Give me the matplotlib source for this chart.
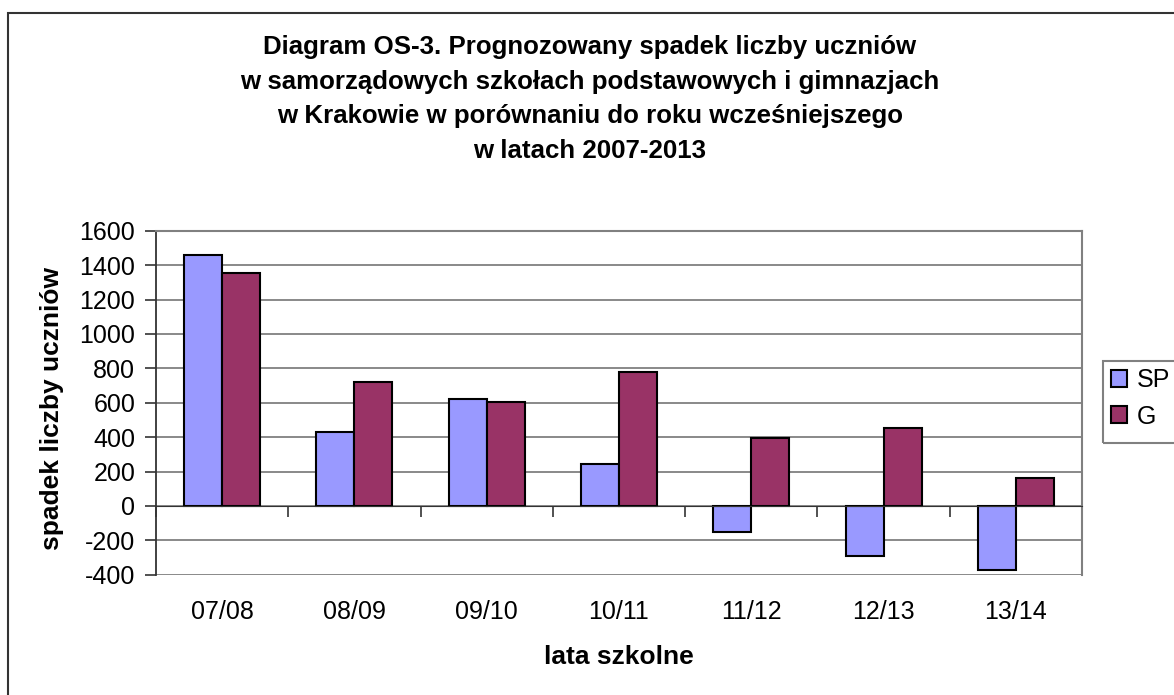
import numpy as np
import matplotlib
matplotlib.use('Agg')
import matplotlib.pyplot as plt
from matplotlib.patches import Rectangle

years = ['07/08', '08/09', '09/10', '10/11', '11/12', '12/13', '13/14']
sp = [1460, 429, 624, 241, -151, -290, -371]
g = [1356, 719, 603, 777, 394, 452, 164]
title = ('Diagram OS-3. Prognozowany spadek liczby uczniów\n'
         'w samorządowych szkołach podstawowych i gimnazjach\n'
         'w Krakowie w porównaniu do roku wcześniejszego\n'
         'w latach 2007-2013')

plt.rcParams['font.family'] = ['Liberation Sans', 'DejaVu Sans']
plt.rcParams['axes.unicode_minus'] = False

W, H = 1174, 695
fig = plt.figure(figsize=(W / 100, H / 100), dpi=100)
ax = fig.add_axes([156 / W, 1 - 574.7 / H, 926 / W, 344 / H])

x = np.arange(len(years))
w = 0.2875
ax.bar(x - w / 2, sp, w, color='#9999FF', edgecolor='black', linewidth=1.5, label='SP', zorder=3)
ax.bar(x + w / 2, g, w, color='#993366', edgecolor='black', linewidth=1.5, label='G', zorder=3)

ax.set_xlim(-0.5, len(years) - 0.5)
ax.set_ylim(-400, 1600)
ax.set_yticks(range(-400, 1601, 200))
ax.yaxis.grid(True, color='#808080', linewidth=1.3)
ax.set_axisbelow(True)

dark = '#333333'
ax.spines['bottom'].set_position(('data', 0))
ax.spines['bottom'].set_color(dark)
ax.spines['bottom'].set_zorder(4)
ax.spines['left'].set_color(dark)
ax.spines['left'].set_linewidth(1.3)
for s in ['top', 'right']:
    ax.spines[s].set_color('#808080')
    ax.spines[s].set_linewidth(1.5)

ax.set_xticks(x, labels=years)
ax.set_xticks(np.arange(-0.5, len(years)), minor=True)
ax.tick_params(axis='x', which='major', length=0, pad=68, labelsize=18)
ax.tick_params(axis='x', which='minor', length=8, direction='out', color=dark, width=1.2)
ax.tick_params(axis='y', length=8, direction='out', color=dark, width=1.2, pad=7, labelsize=18)

fig.text(590 / W, 1 - 99 / H, title, ha='center', va='center', fontsize=18.6,
         fontweight='bold', linespacing=1.55)
fig.text(52 / W, 1 - 408 / H, 'spadek liczby uczniów', rotation=90, ha='center',
         va='center', fontsize=19, fontweight='bold')
fig.text(619 / W, 1 - 657 / H, 'lata szkolne', ha='center', va='center',
         fontsize=19, fontweight='bold')

fig.legend(loc='upper left', bbox_to_anchor=(1106 / W, 1 - 363 / H), frameon=False,
           fontsize=18, handlelength=0.65, handleheight=0.65, handletextpad=0.4,
           labelspacing=0.5, borderpad=0.2, borderaxespad=0)
fig.add_artist(Rectangle((1103 / W, 1 - 443 / H), 0.2, 82 / H, transform=fig.transFigure,
                         fill=False, edgecolor='#808080', linewidth=1.5))
fig.add_artist(Rectangle((8 / W, -0.1), 1.2, 1 - 13 / H + 0.1, transform=fig.transFigure,
                         fill=False, edgecolor=dark, linewidth=1.5))

fig.savefig('out.png', dpi=100)
